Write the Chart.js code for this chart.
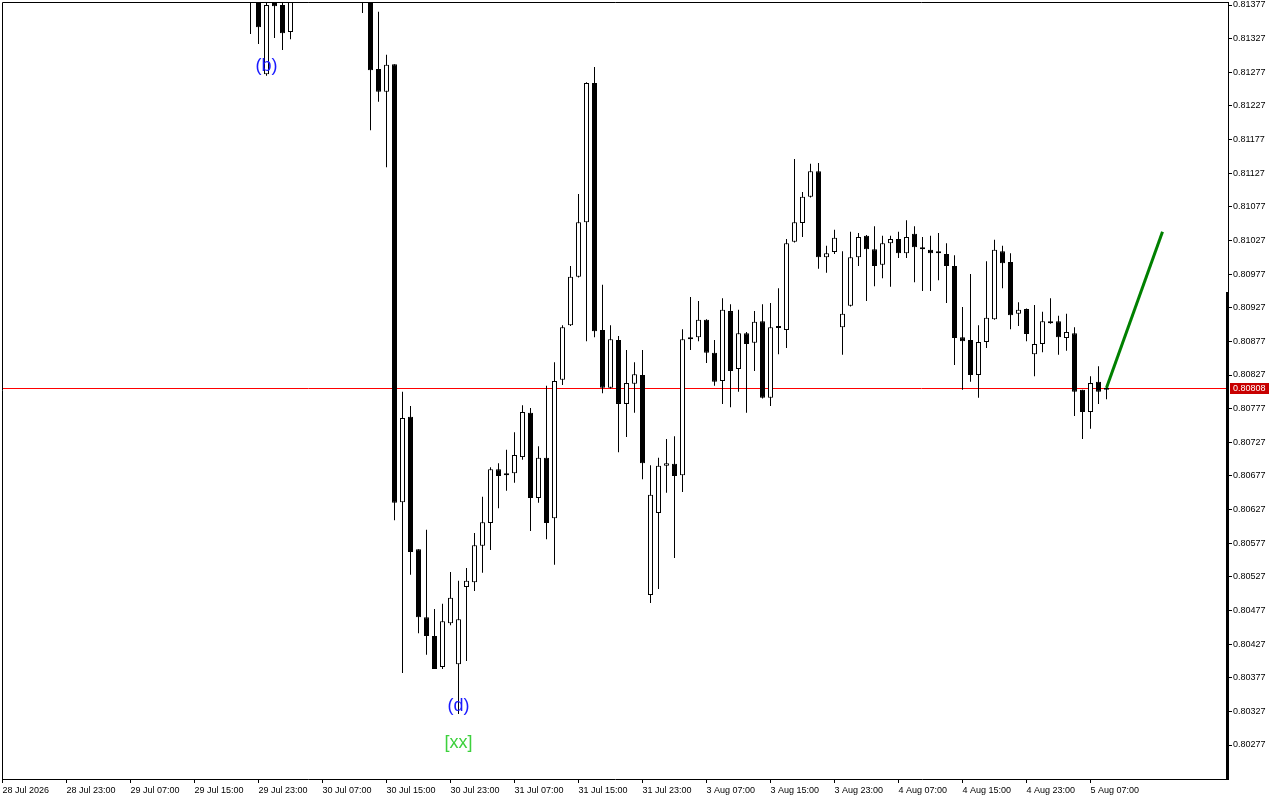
<!DOCTYPE html>
<html>
<head>
<meta charset="utf-8">
<title>H1 chart</title>
<script src="https://cdn.jsdelivr.net/npm/chart.js@4.4.1/dist/chart.umd.min.js"></script>
<style>
  html, body { margin: 0; padding: 0; background: #fff; }
  #wrap { width: 1280px; height: 800px; position: relative; }
</style>
</head>
<body>
<div id="wrap"><canvas id="priceChart"></canvas></div>
<script>
// candles start at bar index 31 (bar 0 = 28 Jul 15:00, one bar per hour)
const firstIndex = 31;

const openPrices = [
    0.81460, 0.81420, 0.81274, 0.81383, 0.81377, 0.81337, null, null, null, null,
    null, null, null, null, 0.81420, 0.81400, 0.81282, 0.81248, 0.81289, 0.80638,
    0.80765, 0.80568, 0.80467, 0.80439, 0.80393, 0.80458, 0.80397, 0.80512, 0.80519, 0.80573,
    0.80607, 0.80687, 0.80681, 0.80681, 0.80705, 0.80771, 0.80644, 0.80704, 0.80614, 0.80820,
    0.80901, 0.80973, 0.81054, 0.81261, 0.80894, 0.80808, 0.80879, 0.80784, 0.80814, 0.80827,
    0.80500, 0.80622, 0.80692, 0.80695, 0.80678, 0.80880, 0.80883, 0.80909, 0.80860, 0.80818,
    0.80922, 0.80836, 0.80889, 0.80875, 0.80907, 0.80793, 0.80897, 0.80894, 0.81025, 0.81053,
    0.81092, 0.81130, 0.81002, 0.81010, 0.80898, 0.80930, 0.81002, 0.81034, 0.81014, 0.80991,
    0.81023, 0.81029, 0.81008, 0.81037, 0.81017, 0.81013, 0.81009, 0.81007, 0.80989, 0.80883,
    0.80879, 0.80827, 0.80876, 0.80910, 0.81011, 0.80995, 0.80918, 0.80925, 0.80858, 0.80873,
    0.80907, 0.80907, 0.80882, 0.80889, 0.80805, 0.80772, 0.80817, 0.80805
];
const highPrices = [
    0.81480, 0.81440, 0.81385, 0.81400, 0.81390, 0.81395, null, null, null, null,
    null, null, null, null, 0.81440, 0.81410, 0.81367, 0.81303, 0.81289, 0.80802,
    0.80781, 0.80568, 0.80597, 0.80479, 0.80487, 0.80534, 0.80521, 0.80540, 0.80592, 0.80646,
    0.80690, 0.80696, 0.80716, 0.80742, 0.80782, 0.80778, 0.80721, 0.80811, 0.80846, 0.80901,
    0.80989, 0.81096, 0.81262, 0.81285, 0.80961, 0.80901, 0.80885, 0.80864, 0.80846, 0.80864,
    0.80693, 0.80704, 0.80732, 0.80736, 0.80895, 0.80943, 0.80937, 0.80910, 0.80879, 0.80941,
    0.80932, 0.80924, 0.80891, 0.80922, 0.80932, 0.80934, 0.80956, 0.81029, 0.81148, 0.81099,
    0.81141, 0.81142, 0.81019, 0.81043, 0.81011, 0.81040, 0.81038, 0.81035, 0.81048, 0.81034,
    0.81034, 0.81040, 0.81057, 0.81048, 0.81032, 0.81034, 0.81038, 0.81023, 0.81005, 0.80928,
    0.80977, 0.80901, 0.80996, 0.81028, 0.81019, 0.81008, 0.80935, 0.80926, 0.80931, 0.80921,
    0.80941, 0.80915, 0.80918, 0.80898, 0.80805, 0.80825, 0.80840, 0.80809
];
const lowPrices = [
    0.81334, 0.81319, 0.81272, 0.81328, 0.81310, 0.81326, null, null, null, null,
    null, null, null, null, 0.81365, 0.81191, 0.81233, 0.81136, 0.80611, 0.80384,
    0.80530, 0.80443, 0.80411, 0.80390, 0.80390, 0.80455, 0.80323, 0.80402, 0.80506, 0.80533,
    0.80567, 0.80629, 0.80655, 0.80667, 0.80701, 0.80595, 0.80637, 0.80583, 0.80545, 0.80812,
    0.80900, 0.80972, 0.80877, 0.80883, 0.80800, 0.80807, 0.80712, 0.80735, 0.80771, 0.80672,
    0.80488, 0.80509, 0.80652, 0.80555, 0.80653, 0.80864, 0.80877, 0.80845, 0.80811, 0.80784,
    0.80779, 0.80802, 0.80771, 0.80833, 0.80792, 0.80781, 0.80858, 0.80867, 0.81024, 0.81032,
    0.81091, 0.80985, 0.80979, 0.81007, 0.80857, 0.80929, 0.80989, 0.80937, 0.80959, 0.80971,
    0.80958, 0.81001, 0.81001, 0.80965, 0.80952, 0.80952, 0.80968, 0.80934, 0.80842, 0.80805,
    0.80817, 0.80793, 0.80867, 0.80909, 0.80956, 0.80895, 0.80900, 0.80877, 0.80825, 0.80861,
    0.80903, 0.80857, 0.80863, 0.80766, 0.80732, 0.80747, 0.80784, 0.80791
];
const closePrices = [
    0.81400, 0.81344, 0.81377, 0.81375, 0.81335, 0.81385, null, null, null, null,
    null, null, null, null, 0.81400, 0.81280, 0.81248, 0.81288, 0.80637, 0.80763,
    0.80564, 0.80467, 0.80439, 0.80390, 0.80461, 0.80496, 0.80464, 0.80521, 0.80574, 0.80608,
    0.80687, 0.80677, 0.80678, 0.80708, 0.80772, 0.80644, 0.80704, 0.80607, 0.80818, 0.80898,
    0.80973, 0.81054, 0.81261, 0.80892, 0.80808, 0.80880, 0.80784, 0.80815, 0.80828, 0.80696,
    0.80649, 0.80692, 0.80696, 0.80677, 0.80880, 0.80883, 0.80909, 0.80860, 0.80817, 0.80924,
    0.80833, 0.80889, 0.80873, 0.80906, 0.80793, 0.80898, 0.80899, 0.81023, 0.81054, 0.81092,
    0.81130, 0.81002, 0.81008, 0.81031, 0.80918, 0.81002, 0.81032, 0.81014, 0.80989, 0.81023,
    0.81029, 0.81008, 0.81032, 0.81017, 0.81014, 0.81008, 0.81008, 0.80989, 0.80882, 0.80877,
    0.80827, 0.80876, 0.80912, 0.81013, 0.80993, 0.80916, 0.80924, 0.80888, 0.80873, 0.80907,
    0.80904, 0.80883, 0.80891, 0.80802, 0.80772, 0.80815, 0.80802, 0.80808
];

// time axis labels, one every 8 bars
const timeTickIndex = [0, 8, 16, 24, 32, 40, 48, 56, 64, 72, 80, 88, 96, 104, 112, 120, 128, 136];
const timeTickLabels = [
    '28 Jul 2026', '28 Jul 23:00', '29 Jul 07:00', '29 Jul 15:00', '29 Jul 23:00',
    '30 Jul 07:00', '30 Jul 15:00', '30 Jul 23:00', '31 Jul 07:00', '31 Jul 15:00',
    '31 Jul 23:00', '3 Aug 07:00', '3 Aug 15:00', '3 Aug 23:00', '4 Aug 07:00',
    '4 Aug 15:00', '4 Aug 23:00', '5 Aug 07:00'
];

const priceTicks = [
    0.81377, 0.81327, 0.81277, 0.81227, 0.81177, 0.81127, 0.81077, 0.81027,
    0.80977, 0.80927, 0.80877, 0.80827, 0.80777, 0.80727, 0.80677, 0.80627,
    0.80577, 0.80527, 0.80477, 0.80427, 0.80377, 0.80327, 0.80277
];

const bidPrice = 0.80808;
const scaleBarTop = 0.80950;

// projection line (green)
const projIndex = [138, 145];
const projPrice = [0.80808, 0.81040];

// wave marks
const markTexts = ['(b)', '(d)', '[xx]'];
const markIndex = [33, 57, 57];
const markPrice = [0.81286, 0.80335, 0.80280];
const markColors = ['#1a1aff', '#1a1aff', '#3dd13d'];

const FONT = "'Liberation Sans', Arial, sans-serif";

// build candle bodies and wicks
const bodies = [];
const wicks = [];
const bodyFill = [];
for (let k = 0; k < openPrices.length; k++) {
    if (openPrices[k] === null) continue;
    const idx = firstIndex + k;
    bodies.push({ x: idx, y: [openPrices[k], closePrices[k]] });
    wicks.push({ x: idx, y: [lowPrices[k], highPrices[k]] });
    bodyFill.push(closePrices[k] >= openPrices[k] ? '#ffffff' : '#000000');
}

const overlayPlugin = {
    id: 'overlay',
    beforeDatasetsDraw(chart) {
        const ctx = chart.ctx;
        const area = chart.chartArea;
        const y = Math.round(chart.scales.y.getPixelForValue(bidPrice)) + 0.5;
        ctx.save();
        ctx.strokeStyle = '#ff0000';
        ctx.lineWidth = 1;
        ctx.beginPath();
        ctx.moveTo(area.left, y);
        ctx.lineTo(area.right, y);
        ctx.stroke();
        ctx.restore();
    },
    afterDatasetsDraw(chart) {
        const ctx = chart.ctx;
        const xs = chart.scales.x, ys = chart.scales.y;
        ctx.save();
        ctx.font = '18px ' + FONT;
        ctx.textAlign = 'center';
        ctx.textBaseline = 'middle';
        markTexts.forEach((t, i) => {
            ctx.fillStyle = markColors[i];
            ctx.fillText(t, xs.getPixelForValue(markIndex[i]), ys.getPixelForValue(markPrice[i]));
        });
        ctx.restore();
    },
    afterDraw(chart) {
        const ctx = chart.ctx;
        const area = chart.chartArea;
        const ys = chart.scales.y;
        ctx.save();
        // frame top and left
        ctx.strokeStyle = '#000';
        ctx.lineWidth = 1;
        ctx.beginPath();
        ctx.moveTo(area.left + 0.5, area.bottom);
        ctx.lineTo(area.left + 0.5, area.top + 0.5);
        ctx.lineTo(area.right, area.top + 0.5);
        ctx.stroke();
        // thick bar on the price scale
        const barTop = Math.round(ys.getPixelForValue(scaleBarTop));
        ctx.fillStyle = '#000';
        ctx.fillRect(area.right - 2, barTop, 3, area.bottom - barTop);
        // bid price box
        const y = Math.round(ys.getPixelForValue(bidPrice));
        ctx.fillStyle = '#c80000';
        ctx.fillRect(area.right + 2, y - 5, 39, 11);
        ctx.fillStyle = '#ffffff';
        ctx.font = '9px ' + FONT;
        ctx.textBaseline = 'middle';
        ctx.textAlign = 'left';
        ctx.fillText(bidPrice.toFixed(5), area.right + 5, y + 0.5);
        ctx.restore();
    }
};

const ctx = document.getElementById('priceChart').getContext('2d');
window.priceChart = new Chart(ctx, {
    type: 'bar',
    data: {
        datasets: [
            {
                label: 'projection',
                type: 'line',
                data: projIndex.map((v, i) => ({ x: v, y: projPrice[i] })),
                borderColor: '#008000',
                borderWidth: 3,
                pointRadius: 0,
                order: 0
            },
            {
                label: 'body',
                data: bodies,
                backgroundColor: bodyFill,
                borderColor: '#000000',
                borderWidth: 1,
                borderSkipped: false,
                barThickness: 5,
                minBarLength: 2,
                inflateAmount: 0,
                grouped: false,
                order: 1
            },
            {
                label: 'wick',
                data: wicks,
                backgroundColor: '#000000',
                borderWidth: 0,
                barThickness: 1,
                inflateAmount: 0,
                grouped: false,
                order: 2
            }
        ]
    },
    options: {
        responsive: true,
        maintainAspectRatio: false,
        animation: false,
        layout: { autoPadding: false, padding: { left: 2, top: 2, right: 0, bottom: 0 } },
        plugins: {
            legend: { display: false },
            tooltip: { enabled: false }
        },
        scales: {
            x: {
                type: 'linear',
                min: -0.0625,
                max: 153.1875,
                offset: false,
                grid: { offset: false, drawOnChartArea: false, drawTicks: true, tickLength: 4, color: '#000' },
                border: { display: true, color: '#000' },
                afterBuildTicks: scale => {
                    scale.ticks = timeTickIndex.map(v => ({ value: v }));
                },
                afterFit: scale => {
                    scale.height = 21;
                    scale.paddingLeft = 0;
                    scale.paddingRight = 0;
                },
                ticks: {
                    autoSkip: false,
                    maxRotation: 0,
                    minRotation: 0,
                    align: 'start',
                    padding: 2,
                    color: '#000',
                    font: { family: FONT, size: 9 },
                    callback: (value, i) => timeTickLabels[i]
                }
            },
            y: {
                position: 'right',
                min: 0.8022646,
                max: 0.8138146,
                grid: { drawOnChartArea: false, drawTicks: true, tickLength: 4, color: '#000' },
                border: { display: true, color: '#000' },
                afterBuildTicks: scale => {
                    scale.ticks = priceTicks.map(v => ({ value: v }));
                },
                afterFit: scale => {
                    scale.width = 52;
                    scale.paddingTop = 0;
                    scale.paddingBottom = 0;
                },
                ticks: {
                    padding: 1,
                    color: '#000',
                    font: { family: FONT, size: 9 },
                    callback: value => value.toFixed(5)
                }
            }
        }
    },
    plugins: [overlayPlugin]
});
</script>
</body>
</html>
